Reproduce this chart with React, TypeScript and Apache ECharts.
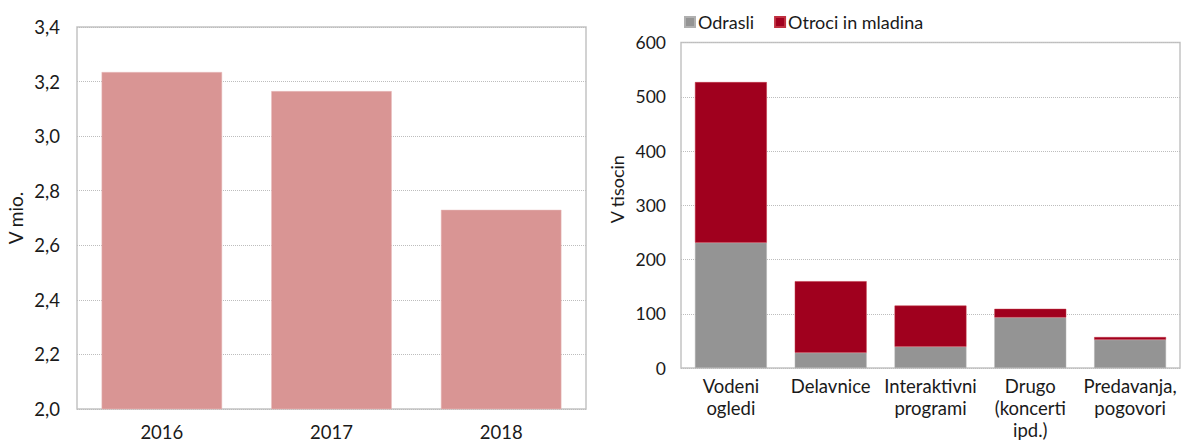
import React, { useEffect, useRef } from "react";
import * as echarts from "echarts";

const yearCategories = ["2016", "2017", "2018"];
const visitorsMillions = [3.235, 3.165, 2.73];
const leftTicks = { min: 2.0, max: 3.4, interval: 0.2 };

const programCategories = [
  "Vodeni\nogledi",
  "Delavnice",
  "Interaktivni\nprogrami",
  "Drugo\n(koncerti\nipd.)",
  "Predavanja,\npogovori",
];
const adults = [231, 28, 39, 93, 52];
const youth = [296, 132, 76, 16, 5];
const rightTicks = { min: 0, max: 600, interval: 100 };

const FONT = "Lato";
const TXT = "#1a1a1a";

export default function App() {
  const ref = useRef<HTMLDivElement>(null);
  useEffect(() => {
    if (!ref.current) return;
    const chart = echarts.init(ref.current, undefined, { renderer: "svg" });
    const gridStyle = {
      show: true,
      borderColor: "#c3c3c3",
      borderWidth: 1.5,
      backgroundColor: "#fff",
    };
    chart.setOption({
      animation: false,
      textStyle: { fontFamily: FONT, color: TXT },
      legend: {
        left: 679,
        top: 8,
        itemWidth: 10,
        itemHeight: 10,
        itemGap: 20,
        icon: "rect",
        textStyle: { fontFamily: FONT, fontSize: 18, color: TXT, padding: [0, 0, 0, -2] },
        data: ["Odrasli", "Otroci in mladina"],
      },
      grid: [
        { left: 77, right: 599, top: 27, bottom: 31, ...gridStyle },
        { left: 681, right: 5, top: 42.5, bottom: 71.5, ...gridStyle },
      ],
      xAxis: [
        {
          type: "category",
          gridIndex: 0,
          data: yearCategories,
          axisLine: { show: false },
          axisTick: { show: false },
          axisLabel: { fontSize: 18.5, color: TXT, fontFamily: FONT, margin: 13 },
        },
        {
          type: "category",
          gridIndex: 1,
          data: programCategories,
          axisLine: { show: false },
          axisTick: { show: false },
          axisLabel: {
            fontSize: 18.5,
            color: TXT,
            fontFamily: FONT,
            margin: 7,
            lineHeight: 22,
            interval: 0,
          },
        },
      ],
      yAxis: [
        {
          type: "value",
          gridIndex: 0,
          min: leftTicks.min,
          max: leftTicks.max,
          interval: leftTicks.interval,
          name: "V mio.",
          nameLocation: "middle",
          nameGap: 52,
          nameTextStyle: { fontSize: 19, color: TXT, fontFamily: FONT },
          axisLine: { show: false },
          axisTick: { show: false },
          axisLabel: {
            fontSize: 18.5,
            color: TXT,
            fontFamily: FONT,
            margin: 17,
            formatter: (v: number) => v.toFixed(1).replace(".", ","),
          },
          splitLine: { lineStyle: { color: "#bdbdbd", type: [1, 1], width: 1 } },
        },
        {
          type: "value",
          gridIndex: 1,
          min: rightTicks.min,
          max: rightTicks.max,
          interval: rightTicks.interval,
          name: "V tisocin",
          nameLocation: "middle",
          nameGap: 55,
          nameTextStyle: { fontSize: 18, color: TXT, fontFamily: FONT, padding: [0, 0, 0, 32] },
          axisLine: { show: false },
          axisTick: { show: false },
          axisLabel: { fontSize: 17.5, color: TXT, fontFamily: FONT, margin: 15 },
          splitLine: { lineStyle: { color: "#bdbdbd", type: [1, 1], width: 1 } },
        },
      ],
      series: [
        {
          type: "bar",
          xAxisIndex: 0,
          yAxisIndex: 0,
          data: visitorsMillions,
          barWidth: "71%",
          itemStyle: { color: "#d99594", borderColor: "#e8bcbc", borderWidth: 0.5 },
        },
        {
          name: "Odrasli",
          type: "bar",
          stack: "s",
          xAxisIndex: 1,
          yAxisIndex: 1,
          data: adults,
          barWidth: "72%",
          itemStyle: { color: "#949494", borderColor: "#b0b0b0", borderWidth: 0.5 },
        },
        {
          name: "Otroci in mladina",
          type: "bar",
          stack: "s",
          xAxisIndex: 1,
          yAxisIndex: 1,
          data: youth,
          barWidth: "72%",
          itemStyle: { color: "#a0001e", borderColor: "#c03040", borderWidth: 0.5 },
        },
      ],
    });
    return () => chart.dispose();
  }, []);
  return (
    <div
      ref={ref}
      style={{ position: "absolute", left: 0, top: 0, width: 1185, height: 441 }}
    />
  );
}
